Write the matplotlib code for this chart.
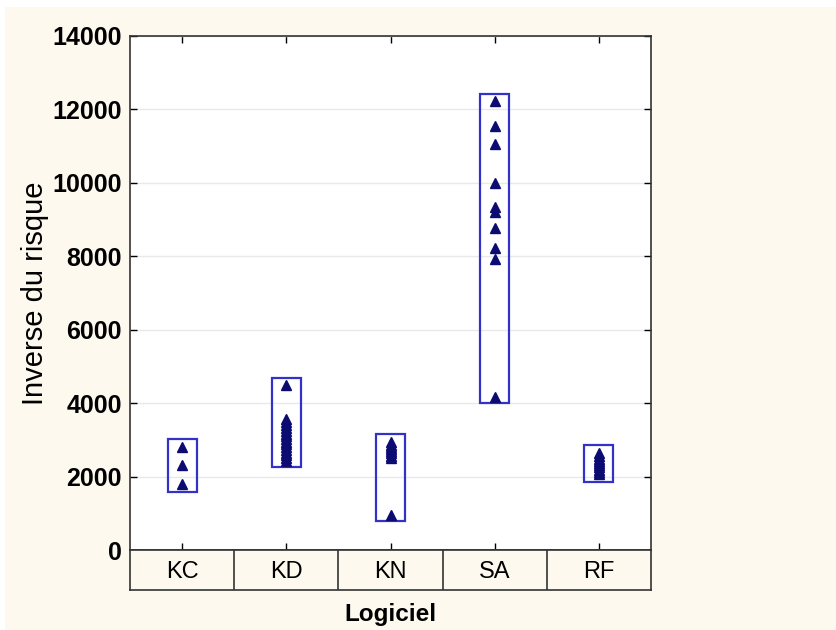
import matplotlib.pyplot as plt
from matplotlib.patches import Rectangle

plt.rcParams["font.family"] = ["Liberation Sans", "DejaVu Sans"]

categories = ["KC", "KD", "KN", "SA", "RF"]

kc_values = [2815, 2315, 1800]
kd_values = [4495, 3570, 3480, 3400, 3320, 3250, 3170, 3100, 3030, 2950,
             2880, 2800, 2730, 2650, 2580, 2500, 2420]
kn_values = [2930, 2870, 2810, 2750, 2690, 2630, 2570, 2510, 950]
sa_values = [12230, 11550, 11060, 10000, 9340, 9200, 8770, 8230, 7930, 4170]
rf_values = [2650, 2570, 2490, 2430, 2370, 2310, 2250, 2190, 2130, 2080]

box_low = [1580, 2250, 800, 4000, 1850]
box_high = [3020, 4680, 3150, 12420, 2870]

BG = "#fdf9ef"
BOX = "#3232c8"
MARK = "#0b0b72"

fig = plt.figure(figsize=(8.36, 6.3), dpi=100, facecolor=BG)
fig.patches.append(Rectangle((0, 1 - 7 / 630), 1, 7 / 630, transform=fig.transFigure,
                             facecolor="white", edgecolor="none"))
fig.patches.append(Rectangle((0, 0), 5 / 836, 1, transform=fig.transFigure,
                             facecolor="white", edgecolor="none"))

left, right = 130 / 836, 651 / 836
ax = fig.add_axes([left, 1 - 550 / 630, right - left, 514 / 630])
ax.set_facecolor("white")

groups = [kc_values, kd_values, kn_values, sa_values, rf_values]
half = 0.14
for i, vals in enumerate(groups):
    x = i + 1
    ax.add_patch(Rectangle((x - half, box_low[i]), 2 * half, box_high[i] - box_low[i],
                           facecolor="none", edgecolor=BOX, lw=1.6, zorder=3))
    ax.plot([x] * len(vals), vals, linestyle="none", marker="^", ms=7,
            color=MARK, zorder=4)

ax.set_xlim(0.5, 5.5)
ax.set_ylim(0, 14000)
ax.set_yticks(range(0, 14001, 2000))
ax.set_xticks(range(1, 6))
ax.set_xticklabels([])
ax.yaxis.grid(True, color="#e9e9e9", lw=1)
ax.set_axisbelow(True)
ax.tick_params(direction="in", length=5, width=1, top=True, right=True,
               labelsize=18, pad=6)
for lab in ax.get_yticklabels():
    lab.set_fontweight("bold")
for s in ax.spines.values():
    s.set_color("#333333")
    s.set_linewidth(1.2)
ax.set_ylabel("Inverse du risque", fontsize=21, labelpad=2)

# category row under the plot
tab = fig.add_axes([left, 1 - 590 / 630, right - left, 40 / 630])
tab.set_facecolor(BG)
tab.set_xlim(0.5, 5.5)
tab.set_ylim(0, 1)
tab.set_xticks([])
tab.set_yticks([])
for s in tab.spines.values():
    s.set_color("#333333")
    s.set_linewidth(1.2)
for i, name in enumerate(categories):
    tab.text(i + 1, 0.45, name, ha="center", va="center", fontsize=17)
    if i > 0:
        tab.axvline(i + 0.5, color="#333333", lw=1.2)
tab.set_xlabel("Logiciel", fontsize=17.5, fontweight="bold", labelpad=9)

fig.savefig("out.png", dpi=100, facecolor=BG)
